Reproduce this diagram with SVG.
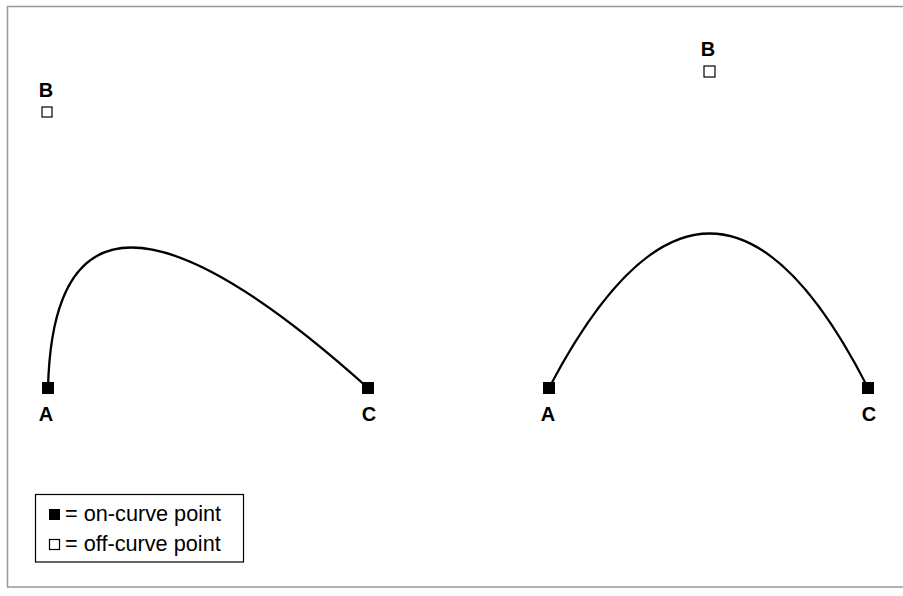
<svg xmlns="http://www.w3.org/2000/svg" width="903" height="596" viewBox="0 0 903 596">
<style>
.frame{fill:none;stroke:#999;stroke-width:1.5}
.curve{fill:none;stroke:#000;stroke-width:2.3}
.on{fill:#000}
.off{fill:#fff;stroke:#000;stroke-width:1.2}
.lbl{font-family:"Liberation Sans",Arial,sans-serif;font-weight:bold;font-size:20px;fill:#000;text-anchor:middle}
.leg{font-family:"Liberation Sans",Arial,sans-serif;font-size:21.7px;fill:#000}
</style>
<rect class="frame" x="7.5" y="6.5" width="905" height="580.5"/>
<g id="connectors">
<path class="curve" d="M48,388 Q55,107 368,388"/>
<path class="curve" d="M549,388 Q711,79 868,388"/>
</g>
<g id="left-A"><rect class="on" x="42" y="382" width="12" height="12"/><text class="lbl" x="46" y="421">A</text></g>
<g id="left-B"><rect class="off" x="42" y="107" width="10" height="10"/><text class="lbl" x="46" y="97">B</text></g>
<g id="left-C"><rect class="on" x="362" y="382" width="12" height="12"/><text class="lbl" x="369" y="421">C</text></g>
<g id="right-A"><rect class="on" x="543" y="382" width="12" height="12"/><text class="lbl" x="548" y="421">A</text></g>
<g id="right-B"><rect class="off" x="704" y="66" width="11" height="11"/><text class="lbl" x="708" y="56">B</text></g>
<g id="right-C"><rect class="on" x="862" y="382" width="12" height="12"/><text class="lbl" x="869" y="421">C</text></g>
<g id="legend">
<rect x="35.5" y="494.5" width="208" height="67.5" fill="#fff" stroke="#000" stroke-width="1.2"/>
<rect class="on" x="49" y="509" width="11" height="11"/>
<text class="leg" x="65" y="521">= on-curve point</text>
<rect class="off" x="49.5" y="539.5" width="10" height="10"/>
<text class="leg" x="65" y="551">= off-curve point</text>
</g>
</svg>
